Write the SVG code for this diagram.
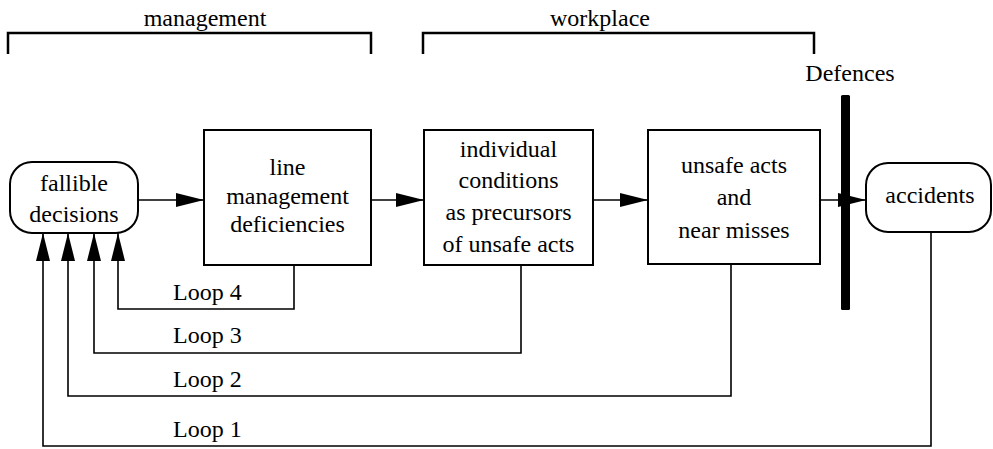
<svg xmlns="http://www.w3.org/2000/svg" width="993" height="449" viewBox="0 0 993 449">
<style>
text{font-family:"Liberation Serif","Times New Roman",serif;font-size:24px;fill:#000}
.c{text-anchor:middle}
.box{fill:#fff;stroke:#000;stroke-width:2}
.ln{fill:none;stroke:#000;stroke-width:1.6}
.br{fill:none;stroke:#000;stroke-width:2.5}
</style>
<defs>
<marker id="ah" markerUnits="userSpaceOnUse" markerWidth="30" markerHeight="16" refX="28" refY="7" orient="auto">
<path d="M0,0 L28,7 L0,14 Z" fill="#000"/>
</marker>
</defs>
<g id="labels">
<path class="br" d="M8,54 V33 H371 V54"/>
<text class="c" x="205" y="26">management</text>
<path class="br" d="M423,54 V33 H814 V54"/>
<text class="c" x="600" y="26">workplace</text>
<text class="c" x="850" y="81">Defences</text>
</g>
<g id="connectors">
<line class="ln" x1="138" y1="200" x2="204" y2="200" marker-end="url(#ah)"/>
<line class="ln" x1="371" y1="200" x2="424" y2="200" marker-end="url(#ah)"/>
<line class="ln" x1="593" y1="200" x2="648" y2="200" marker-end="url(#ah)"/>
<line class="ln" x1="820" y1="200" x2="866" y2="200" marker-end="url(#ah)"/>
<path class="ln" d="M294,265 V309 H118 V233" marker-end="url(#ah)"/>
<path class="ln" d="M521,265 V353 H94 V233" marker-end="url(#ah)"/>
<path class="ln" d="M731,264 V396 H68 V233" marker-end="url(#ah)"/>
<path class="ln" d="M931,232 V446 H43 V233" marker-end="url(#ah)"/>
<text x="173" y="300">Loop 4</text>
<text x="173" y="343">Loop 3</text>
<text x="173" y="387">Loop 2</text>
<text x="173" y="437">Loop 1</text>
</g>
<g id="defences">
<rect x="841" y="95" width="9" height="215" rx="1.5" fill="#000"/>
</g>
<g id="fallible">
<rect class="box" x="10" y="162" width="128" height="71" rx="22"/>
<text class="c" x="74" y="191">fallible</text>
<text class="c" x="74" y="222">decisions</text>
</g>
<g id="line-management">
<rect class="box" x="204" y="130" width="167" height="135"/>
<text class="c" x="287.5" y="175">line</text>
<text class="c" x="287.5" y="204">management</text>
<text class="c" x="287.5" y="232">deficiencies</text>
</g>
<g id="individual">
<rect class="box" x="424" y="130" width="169" height="135"/>
<text class="c" x="508.5" y="157">individual</text>
<text class="c" x="508.5" y="188">conditions</text>
<text class="c" x="508.5" y="220">as precursors</text>
<text class="c" x="508.5" y="252">of unsafe acts</text>
</g>
<g id="unsafe">
<rect class="box" x="648" y="130" width="172" height="134"/>
<text class="c" x="734" y="173">unsafe acts</text>
<text class="c" x="734" y="205">and</text>
<text class="c" x="734" y="238">near misses</text>
</g>
<g id="accidents">
<rect class="box" x="866" y="163" width="125" height="69" rx="22"/>
<text class="c" x="930" y="203">accidents</text>
</g>
</svg>
